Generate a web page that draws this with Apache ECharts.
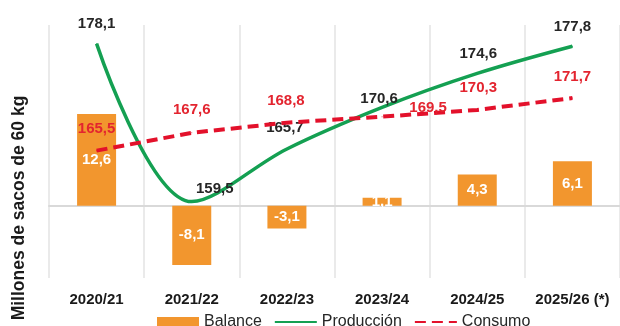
<!DOCTYPE html>
<html>
<head>
<meta charset="utf-8">
<script src="https://cdn.jsdelivr.net/npm/echarts@6/dist/echarts.min.js"></script>
<style>
  html, body { margin: 0; padding: 0; background: #fff; }
  #chart { width: 620px; height: 326px; }
</style>
</head>
<body>
<div id="chart"></div>
<script>
// Campañas cafeteras (millones de sacos de 60 kg)
const campanas = ['2020/21', '2021/22', '2022/23', '2023/24', '2024/25', '2025/26 (*)'];
const produccion = [178.1, 159.5, 165.7, 170.6, 174.6, 177.8];
const consumo = [165.5, 167.6, 168.8, 169.5, 170.3, 171.7];
const balance = [12.6, -8.1, -3.1, 1.1, 4.3, 6.1];

// Desplazamiento [dx, dy] de cada etiqueta respecto a su posición sobre el punto
const offProd = [[0, -7], [23, 0], [-2, -8], [-3, 4.5], [1, -6.5], [0, -6.5]];
const offCons = [[0, -9], [0, -10], [-1, -9], [46, 4], [1, -9.5], [0, -8.5]];

const FONT = "'Liberation Sans', Arial, sans-serif";
const fmt = v => v.toFixed(1).replace('.', ',');
const shift = offs => p => ({ dx: offs[p.dataIndex][0], dy: offs[p.dataIndex][1], hideOverlap: false });

const chart = echarts.init(document.getElementById('chart'), null, { renderer: 'canvas' });

chart.setOption({
  animation: false,
  backgroundColor: '#ffffff',
  textStyle: { fontFamily: FONT },
  grid: { left: 49, top: 25, width: 577, height: 253, containLabel: false },
  legend: {
    left: 152,
    top: 309,
    itemWidth: 42,
    itemHeight: 10,
    itemGap: 12,
    textStyle: { fontFamily: FONT, fontSize: 16, color: '#262626' },
    data: [
      { name: 'Balance', icon: 'rect' },
      { name: 'Producción', itemStyle: { opacity: 0 } },
      { name: 'Consumo', itemStyle: { opacity: 0 } }
    ]
  },
  xAxis: {
    type: 'category',
    data: campanas,
    boundaryGap: true,
    axisLine: { lineStyle: { color: '#d9d9d9', width: 2 } },
    axisTick: { show: false },
    axisLabel: { interval: 0, color: '#1a1a1a', fontWeight: 'bold', fontSize: 15, margin: 14, fontFamily: FONT },
    splitLine: { show: true, interval: 0, lineStyle: { color: '#e3e3e3', width: 1.5 } }
  },
  yAxis: [
    { type: 'value', min: 150.5, max: 180.3, show: false, splitLine: { show: false } },
    { type: 'value', min: -9.9, max: 24.8, show: false, splitLine: { show: false } }
  ],
  graphic: [{
    type: 'text',
    x: 19,
    y: 208,
    rotation: Math.PI / 2,
    style: {
      text: 'Millones de sacos de 60 kg',
      fontFamily: FONT,
      fontSize: 17.5,
      fontWeight: 'bold',
      fill: '#1a1a1a',
      textAlign: 'center',
      textVerticalAlign: 'middle'
    }
  }],
  series: [
    {
      name: 'Balance',
      type: 'bar',
      yAxisIndex: 1,
      barWidth: 39,
      data: balance,
      itemStyle: { color: '#F2962E' },
      label: {
        show: true,
        position: 'inside',
        color: '#ffffff',
        fontWeight: 'bold',
        fontSize: 15,
        fontFamily: FONT,
        formatter: p => fmt(p.value)
      },
      z: 1
    },
    {
      name: 'Producción',
      type: 'line',
      yAxisIndex: 0,
      smooth: 0.35,
      symbol: 'circle',
      symbolSize: 1,
      showSymbol: true,
      data: produccion,
      lineStyle: { color: '#14A052', width: 3.5 },
      itemStyle: { color: '#14A052' },
      label: {
        show: true,
        position: 'top',
        color: '#262626',
        fontWeight: 'bold',
        fontSize: 15,
        fontFamily: FONT,
        formatter: p => fmt(p.value)
      },
      labelLayout: shift(offProd),
      z: 3
    },
    {
      name: 'Consumo',
      type: 'line',
      yAxisIndex: 0,
      symbol: 'circle',
      symbolSize: 1,
      showSymbol: true,
      data: consumo,
      lineStyle: { color: '#E3112B', width: 4, type: [11, 6] },
      itemStyle: { color: '#E3112B' },
      label: {
        show: true,
        position: 'top',
        color: '#E3242F',
        fontWeight: 'bold',
        fontSize: 15,
        fontFamily: FONT,
        formatter: p => fmt(p.value)
      },
      labelLayout: shift(offCons),
      z: 4
    }
  ]
});
</script>
</body>
</html>
